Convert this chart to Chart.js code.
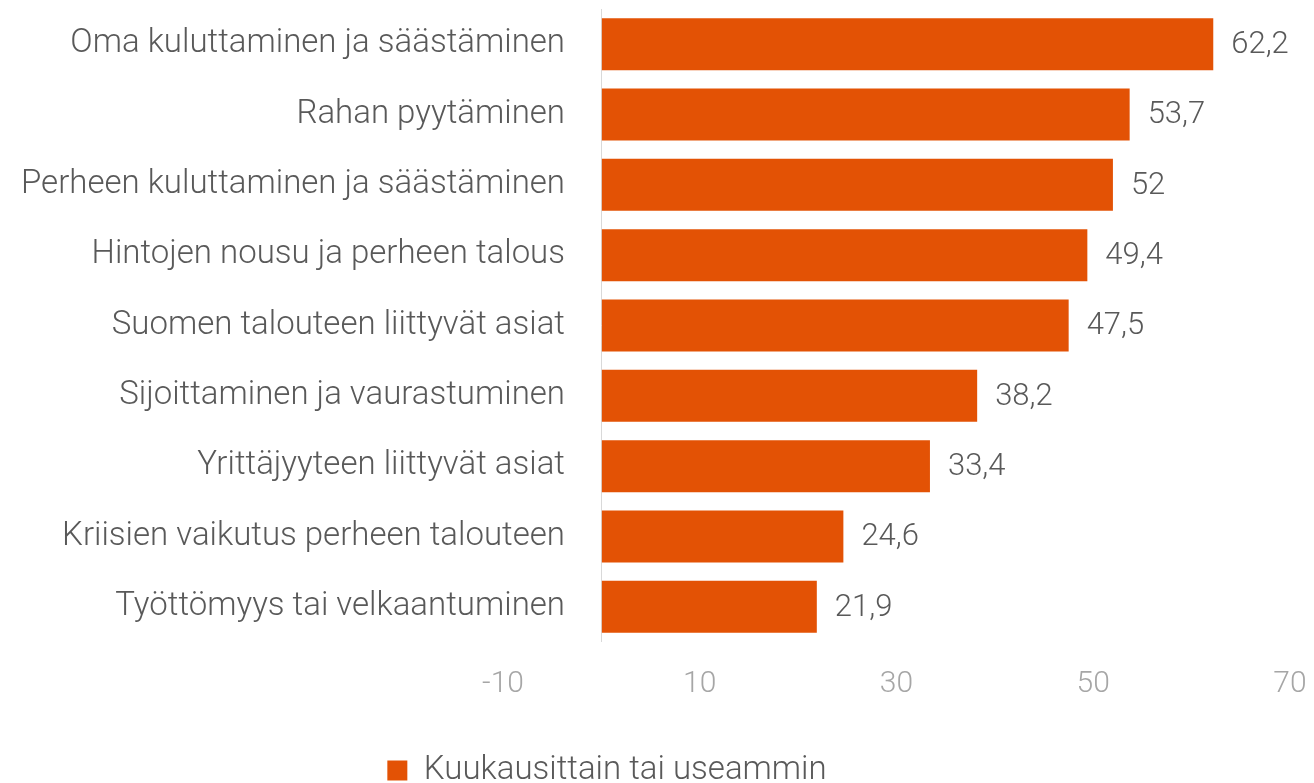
<!DOCTYPE html>
<html>
<head>
<meta charset="utf-8">
<script src="https://cdn.jsdelivr.net/npm/chart.js@4/dist/chart.umd.min.js"></script>
<style>
  html, body { margin: 0; padding: 0; background: #ffffff; }
  #wrap { width: 1314px; height: 783px; }
</style>
</head>
<body>
<div id="wrap"><canvas id="c" width="1314" height="783"></canvas></div>
<script>
const categories = [
  'Oma kuluttaminen ja säästäminen',
  'Rahan pyytäminen',
  'Perheen kuluttaminen ja säästäminen',
  'Hintojen nousu ja perheen talous',
  'Suomen talouteen liittyvät asiat',
  'Sijoittaminen ja vaurastuminen',
  'Yrittäjyyteen liittyvät asiat',
  'Kriisien vaikutus perheen talouteen',
  'Työttömyys tai velkaantuminen'
];
const seriesName = 'Kuukausittain tai useammin';
const values = [62.2, 53.7, 52, 49.4, 47.5, 38.2, 33.4, 24.6, 21.9];
const xTickValues = [-10, 10, 30, 50, 70];

const FONT = 'Roboto';

const dataLabels = {
  id: 'dataLabels',
  afterDatasetsDraw(chart) {
    const ctx = chart.ctx;
    const meta = chart.getDatasetMeta(0);
    ctx.save();
    ctx.font = '300 31px ' + FONT;
    ctx.fillStyle = '#595959';
    ctx.textAlign = 'left';
    ctx.textBaseline = 'middle';
    meta.data.forEach((bar, i) => {
      const txt = String(values[i]).replace('.', ',');
      ctx.fillText(txt, bar.x + 18, bar.y + 1);
    });
    ctx.restore();
  }
};

const legendShift = {
  id: 'legendShift',
  afterLayout(chart) {
    const lg = chart.legend;
    if (lg) { lg.left = 0; lg.right = 1214; }
  }
};

new Chart(document.getElementById('c'), {
  type: 'bar',
  data: {
    labels: categories,
    datasets: [{
      label: seriesName,
      data: values,
      backgroundColor: '#E35205',
      borderWidth: 0,
      categoryPercentage: 1,
      barPercentage: 0.74
    }]
  },
  options: {
    indexAxis: 'y',
    responsive: false,
    animation: false,
    layout: { padding: { left: 503, right: 24, top: 9, bottom: -14 } },
    plugins: {
      legend: {
        position: 'bottom',
        labels: {
          font: { family: FONT, size: 33, weight: '300' },
          color: '#595959',
          boxWidth: 20,
          boxHeight: 20,
          padding: 10
        }
      },
      tooltip: { enabled: false }
    },
    scales: {
      x: {
        min: -10,
        max: 70,
        afterBuildTicks(scale) {
          scale.ticks = xTickValues.concat([0]).map(v => ({ value: v }));
        },
        afterFit(scale) { scale.height += 18; },
        ticks: {
          autoSkip: false,
          maxRotation: 0,
          padding: 24,
          color: '#a6a6a6',
          font: { family: FONT, size: 30, weight: '300' },
          callback: (v) => (v === 0 ? '' : String(v))
        },
        grid: {
          drawTicks: false,
          lineWidth: 1,
          color: (c) => (c.tick && c.tick.value === 0 ? '#d9d9d9' : 'rgba(0,0,0,0)')
        },
        border: { display: false }
      },
      y: {
        position: { x: -3.7 },
        afterFit(scale) { scale.paddingTop = 0; scale.paddingBottom = 0; },
        ticks: {
          color: '#595959',
          font: { family: FONT, size: 33, weight: '300' },
          padding: 0,
          autoSkip: false
        },
        grid: { display: false, drawTicks: false },
        border: { display: false }
      }
    }
  },
  plugins: [dataLabels, legendShift]
});
</script>
</body>
</html>
